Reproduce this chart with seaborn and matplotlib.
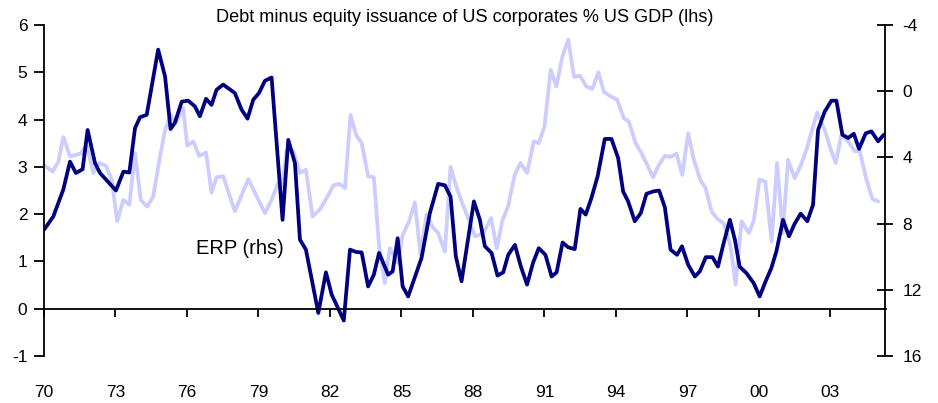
import matplotlib
matplotlib.use("Agg")
import matplotlib.pyplot as plt
import seaborn as sns
import pandas as pd

# Debt minus equity issuance of US corporates, % of US GDP (lhs)
debt_year = [1970.0, 1970.39, 1970.81, 1971.09, 1971.34, 1971.62, 1971.83, 1972.14, 1972.35, 1973.02,
             1973.33, 1973.58, 1973.82, 1974.03, 1974.31, 1974.79, 1975.08, 1975.31, 1975.49, 1975.78,
             1976.05, 1976.33, 1976.54, 1976.80, 1977.03, 1977.24, 1977.52, 1978.01, 1978.29, 1978.54,
             1978.78, 1979.02, 1979.27, 1979.55, 1980.01, 1980.25, 1980.53, 1980.74, 1980.99, 1981.51,
             1981.83, 1982.07, 1982.58, 1982.84, 1983.09, 1983.33, 1983.60, 1983.84, 1984.06, 1984.44,
             1984.63, 1984.84, 1985.05, 1985.28, 1985.84, 1986.19, 1986.54, 1986.82, 1987.06, 1987.28,
             1987.52, 1988.04, 1988.29, 1988.50, 1988.78, 1989.03, 1989.27, 1989.48, 1989.76, 1990.01,
             1990.27, 1990.52, 1990.76, 1991.04, 1991.30, 1991.51, 1991.76, 1991.99, 1992.27, 1992.51,
             1992.73, 1992.97, 1993.23, 1993.53, 1993.81, 1994.09, 1994.30, 1994.51, 1994.79, 1995.04,
             1995.28, 1995.56, 1995.81, 1996.05, 1996.29, 1996.56, 1996.77, 1997.03, 1997.31, 1997.52,
             1997.77, 1998.05, 1998.28, 1998.52, 1998.78, 1998.99, 1999.19, 1999.48, 1999.78, 2000.03,
             2000.28, 2000.52, 2000.73, 2001.01, 2001.26, 2001.50, 2001.75, 2002.03, 2002.27, 2002.48,
             2002.76, 2003.04, 2003.25, 2003.50, 2003.74, 2003.98, 2004.20, 2004.48, 2004.72, 2005.00,
             2005.24]
debt_value = [1.67, 1.95, 2.52, 3.11, 2.87, 2.95, 3.78, 3.08, 2.87, 2.50,
              2.90, 2.88, 3.82, 4.05, 4.10, 5.48, 4.91, 3.80, 3.93, 4.38,
              4.40, 4.28, 4.07, 4.44, 4.31, 4.63, 4.74, 4.56, 4.21, 4.02,
              4.42, 4.56, 4.82, 4.89, 1.88, 3.57, 3.08, 1.46, 1.25, -0.09,
              0.77, 0.30, -0.25, 1.25, 1.20, 1.19, 0.47, 0.72, 1.18, 0.72,
              0.79, 1.49, 0.47, 0.26, 1.07, 2.02, 2.64, 2.61, 2.37, 1.11,
              0.58, 2.27, 1.88, 1.32, 1.18, 0.70, 0.77, 1.14, 1.35, 0.89,
              0.51, 0.97, 1.28, 1.14, 0.68, 0.77, 1.40, 1.30, 1.26, 2.11,
              1.99, 2.34, 2.80, 3.59, 3.59, 3.19, 2.48, 2.27, 1.85, 2.02,
              2.43, 2.48, 2.50, 2.15, 1.25, 1.14, 1.32, 0.93, 0.68, 0.79,
              1.09, 1.09, 0.89, 1.39, 1.88, 1.46, 0.89, 0.75, 0.54, 0.26,
              0.58, 0.86, 1.21, 1.88, 1.53, 1.80, 2.01, 1.85, 2.20, 3.78,
              4.17, 4.40, 4.40, 3.68, 3.61, 3.70, 3.38, 3.71, 3.75, 3.54,
              3.68]

# ERP (rhs, inverted)
erp_year = [1970.0, 1970.36, 1970.60, 1970.81, 1971.09, 1971.54, 1971.79, 1972.07, 1972.32, 1972.60,
            1972.84, 1973.07, 1973.33, 1973.58, 1973.82, 1974.06, 1974.33, 1974.58, 1974.87, 1975.08,
            1975.31, 1975.54, 1975.84, 1976.01, 1976.26, 1976.51, 1976.80, 1977.03, 1977.24, 1977.52,
            1978.01, 1978.57, 1979.27, 1979.55, 1979.83, 1980.00, 1980.18, 1980.46, 1980.74, 1980.99,
            1981.27, 1981.58, 1981.86, 1982.14, 1982.39, 1982.63, 1982.86, 1983.09, 1983.33, 1983.60,
            1983.84, 1984.06, 1984.30, 1984.51, 1984.84, 1985.05, 1985.32, 1985.56, 1985.80, 1986.05,
            1986.33, 1986.54, 1986.82, 1987.06, 1987.34, 1987.50, 1988.09, 1988.44, 1988.76, 1989.00,
            1989.24, 1989.47, 1989.75, 1989.99, 1990.27, 1990.55, 1990.76, 1991.00, 1991.26, 1991.50,
            1991.75, 1992.00, 1992.24, 1992.49, 1992.75, 1993.01, 1993.26, 1993.49, 1993.77, 1994.05,
            1994.33, 1994.54, 1994.82, 1995.07, 1995.56, 1995.80, 1996.05, 1996.29, 1996.54, 1996.78,
            1997.03, 1997.26, 1997.55, 1997.76, 1998.01, 1998.25, 1998.53, 1998.81, 1999.02, 1999.27,
            1999.58, 1999.79, 2000.02, 2000.27, 2000.53, 2000.76, 2001.00, 2001.22, 2001.50, 2001.74,
            2001.99, 2002.23, 2002.44, 2002.76, 2002.97, 2003.22, 2003.46, 2003.74, 2004.02, 2004.23,
            2004.51, 2004.76, 2005.00]
erp_value = [4.46, 4.86, 4.26, 2.77, 3.94, 3.77, 3.23, 4.94, 4.34, 4.51,
             5.34, 7.86, 6.57, 6.86, 3.74, 6.57, 6.97, 6.37, 3.94, 2.34,
             1.43, 1.91, 1.03, 3.29, 3.03, 3.91, 3.71, 6.14, 5.20, 5.14,
             7.26, 5.31, 7.37, 6.57, 5.51, 5.74, 3.54, 3.63, 4.94, 4.74,
             7.57, 7.14, 6.46, 5.69, 5.60, 5.86, 1.43, 2.63, 3.14, 5.14,
             5.20, 9.37, 11.60, 9.49, 10.37, 8.69, 7.86, 6.71, 9.89, 7.46,
             8.26, 8.57, 9.69, 4.57, 5.94, 6.57, 8.77, 8.57, 7.66, 9.49,
             7.77, 6.97, 5.06, 4.34, 4.94, 3.03, 3.14, 2.14, -1.29, -0.29,
             -2.09, -3.11, -0.86, -0.94, -0.29, -0.14, -1.14, 0.03, 0.31, 0.51,
             1.63, 1.83, 3.14, 3.74, 5.20, 4.46, 3.91, 3.97, 3.77, 5.06,
             2.54, 4.11, 5.40, 5.86, 7.26, 7.71, 8.00, 9.37, 11.69, 7.86,
             8.57, 7.77, 5.34, 5.46, 9.09, 4.34, 8.57, 4.14, 5.26, 4.54,
             3.54, 2.34, 1.29, 2.34, 3.34, 4.34, 2.63, 3.03, 3.63, 3.63,
             5.34, 6.51, 6.66]

xtick_years = [1970, 1973, 1976, 1979, 1982, 1985, 1988, 1991, 1994, 1997, 2000, 2003]
xtick_labels = ["70", "73", "76", "79", "82", "85", "88", "91", "94", "97", "00", "03"]
lhs_ticks = [-1, 0, 1, 2, 3, 4, 5, 6]
rhs_ticks = [-4, 0, 4, 8, 12, 16]

title_text = "Debt minus equity issuance of US corporates % US GDP (lhs)"
erp_label = "ERP (rhs)"

sns.set_style("ticks")
plt.rcParams["font.family"] = ["Liberation Sans", "DejaVu Sans"]

debt_df = pd.DataFrame({"year": debt_year, "value": debt_value})
erp_df = pd.DataFrame({"year": erp_year, "value": erp_value})

W, H = 938, 403
fig = plt.figure(figsize=(W / 100, H / 100), dpi=100)
ax = fig.add_axes([44 / W, 1 - 356 / H, (885.5 - 44) / W, (356 - 25) / H])
ax2 = ax.twinx()

sns.lineplot(data=erp_df, x="year", y="value", ax=ax2, color="#ccccff",
             linewidth=2.7, estimator=None, sort=False)
sns.lineplot(data=debt_df, x="year", y="value", ax=ax, color="#000080",
             linewidth=2.7, estimator=None, sort=False)

ax.set_zorder(ax2.get_zorder() + 1)
ax.patch.set_visible(False)

ax.set_xlim(1970, 2005.31)
ax.set_ylim(-1, 6)
ax2.set_ylim(16, -4)

ax.set_xticks(xtick_years)
ax.set_xticklabels(xtick_labels)
ax.set_yticks(lhs_ticks)
ax.set_yticklabels([str(v) for v in lhs_ticks])
ax2.set_yticks(rhs_ticks)
ax2.set_yticklabels([str(v) for v in rhs_ticks])

for a in (ax, ax2):
    a.set_xlabel("")
    a.set_ylabel("")
    a.spines["top"].set_visible(False)

ax.spines["right"].set_visible(False)
ax.spines["bottom"].set_position(("data", 0))
ax2.spines["bottom"].set_visible(False)
ax2.spines["left"].set_visible(False)
for s in ("left", "bottom"):
    ax.spines[s].set_linewidth(1.3)
    ax.spines[s].set_color("black")
ax2.spines["right"].set_linewidth(1.3)
ax2.spines["right"].set_color("black")

ax.tick_params(axis="y", direction="out", length=7, width=1.3, pad=5,
               labelsize=12.5, colors="black")
ax.tick_params(axis="x", direction="out", length=6, width=1.3, pad=49,
               labelsize=12.5, colors="black")
ax2.tick_params(axis="y", direction="inout", length=12, width=1.3, pad=6,
                labelsize=12.5, colors="black")

fig.text(465 / W, 1 - 18 / H, title_text, ha="center", va="center",
         fontsize=13.1, color="black")
fig.text(240 / W, 1 - 249 / H, erp_label, ha="center", va="center",
         fontsize=14.5, color="black")

fig.savefig("out.png", dpi=100)
